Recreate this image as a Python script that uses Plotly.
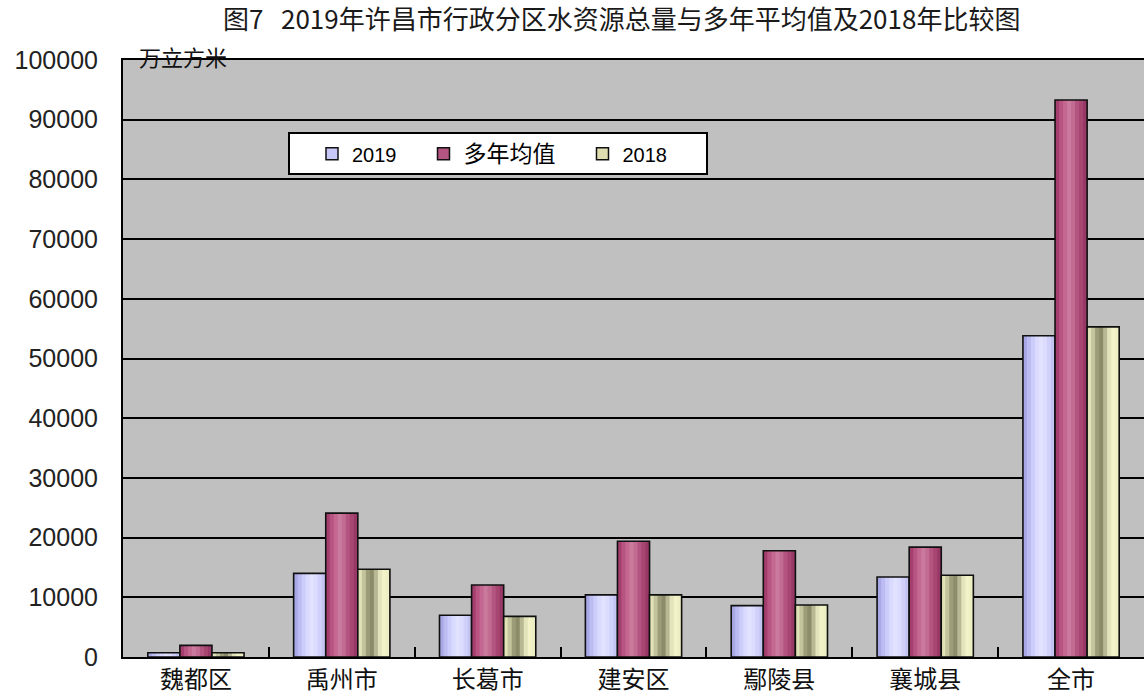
import plotly.graph_objects as go

# 2019年许昌市行政分区水资源总量（万立方米）
districts = ["魏都区", "禹州市", "长葛市", "建安区", "鄢陵县", "襄城县", "全市"]
series_names = ["2019", "多年均值", "2018"]
values_2019 = [700, 14000, 7000, 10400, 8600, 13400, 53800]
values_avg = [1950, 24100, 12050, 19400, 17800, 18400, 93300]
values_2018 = [700, 14700, 6800, 10400, 8700, 13700, 55300]
y_ticks = list(range(0, 100001, 10000))

series_values = [values_2019, values_avg, values_2018]

# Shaded column fills (left -> right) and legend swatch colours
shades = [
    ["#a8a8e6", "#bcbcf2", "#cdcdfb", "#dadaff", "#e2e2ff", "#dcdcff", "#d0d0fa", "#c4c4f2"],
    ["#a43e6e", "#b85482", "#c46892", "#ca7a9c", "#c26c92", "#b45480", "#a84672", "#983866"],
    ["#e2e2b8", "#c4c49c", "#9c9c78", "#8c8c6a", "#b8b894", "#e4e4bc", "#f2f2c8", "#eeeec4"],
]
swatch = ["#c8c8f8", "#b45482", "#dedeb0"]

bar_w = 0.22
n_slices = len(shades[0])

fig = go.Figure()

for i, vals in enumerate(series_values):
    base = (i - 1.5) * bar_w
    # vertical slices give each column its shading
    for k, col in enumerate(shades[i]):
        fig.add_trace(go.Bar(
            x=districts, y=vals,
            offset=base + k * bar_w / n_slices,
            width=bar_w / n_slices * 1.25 if k < n_slices - 1 else bar_w / n_slices,
            marker=dict(color=col, line=dict(width=0)),
            showlegend=False, hoverinfo="skip",
        ))
    # outline of the column
    fig.add_trace(go.Bar(
        x=districts, y=vals, offset=base, width=bar_w,
        marker=dict(color="rgba(0,0,0,0)", line=dict(color="#101010", width=1.6)),
        name=series_names[i], showlegend=False,
    ))

legend_labels = ["2019", "<span style='font-size:23px'>多年均值</span>",
                 "2018" + "&nbsp;" * 6]
for i in range(3):
    fig.add_trace(go.Bar(
        x=[None], y=[None], name=legend_labels[i],
        marker=dict(color=swatch[i], line=dict(color="#101010", width=1.5)),
        showlegend=True,
    ))

fig.update_layout(
    width=1145, height=700,
    margin=dict(l=123, r=1, t=60, b=43, autoexpand=False),
    barmode="overlay",
    paper_bgcolor="white",
    plot_bgcolor="#c0c0c0",
    font=dict(family="Liberation Sans, Noto Sans CJK SC", color="black"),
    title=dict(
        text="图7   2019年许昌市行政分区水资源总量与多年平均值及2018年比较图",
        x=0.543, xanchor="center", y=0.971, yanchor="middle",
        font=dict(family="Noto Sans CJK SC", size=26, color="#1a1a1a"),
    ),
    showlegend=True,
    legend=dict(
        orientation="h",
        x=0.1616, xanchor="left", y=0.879, yanchor="top",
        bgcolor="white", bordercolor="black", borderwidth=2,
        font=dict(family="Liberation Sans, Noto Sans CJK SC", size=20),
        indentation=22,
        traceorder="normal",
    ),
    xaxis=dict(
        type="category", range=[-0.5, 6.5], automargin=False,
        showline=True, linecolor="black", linewidth=2, mirror=True,
        ticks="inside", tickson="boundaries", ticklen=10, tickwidth=2, tickcolor="black",
        showgrid=False, ticklabelstandoff=0,
        tickfont=dict(family="Noto Sans CJK SC", size=24, color="#111"),
    ),
    yaxis=dict(
        range=[0, 100000], tickvals=y_ticks, tickformat="d", automargin=False,
        showline=True, linecolor="black", linewidth=2,
        showgrid=True, gridcolor="black", gridwidth=2,
        zeroline=False,
        ticks="", ticklabelstandoff=18,
        tickfont=dict(family="Liberation Sans", size=25, color="#222"),
    ),
    annotations=[dict(
        text="万立方米", xref="paper", yref="paper", x=0.014, y=1.006,
        xanchor="left", yanchor="middle", showarrow=False,
        font=dict(family="Noto Sans CJK SC", size=22, color="#111"),
    )],
)

fig.write_html("out.html")
